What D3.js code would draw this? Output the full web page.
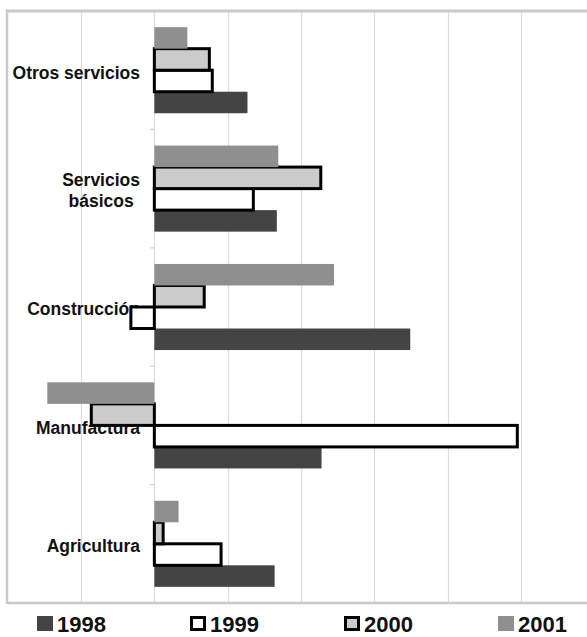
<!DOCTYPE html>
<html>
<head>
<meta charset="utf-8">
<script src="https://cdn.jsdelivr.net/npm/d3@7"></script>
<style>
  body { margin: 0; background: #fff; }
  svg { display: block; font-family: "Liberation Sans", Arial, sans-serif; }
</style>
</head>
<body>
<svg width="587" height="637"></svg>
<script>
// categories, top to bottom
var categories = ["Otros servicios", "Servicios básicos", "Construcción", "Manufactura", "Agricultura"];
var categoryLines = [["Otros servicios"], ["Servicios", "básicos"], ["Construcción"], ["Manufactura"], ["Agricultura"]];
var years = ["1998", "1999", "2000", "2001"];

// values per year, same order as categories
var v1998 = [1.27, 1.67, 3.49, 2.28, 1.64];
var v1999 = [0.79, 1.35, -0.32, 4.95, 0.91];
var v2000 = [0.75, 2.27, 0.68, -0.86, 0.12];
var v2001 = [0.45, 1.69, 2.45, -1.46, 0.33];
var gridTicks = [-1, 0, 1, 2, 3, 4, 5, 6];

var series = { "1998": v1998, "1999": v1999, "2000": v2000, "2001": v2001 };
var fills = { "1998": "#444444", "1999": "#ffffff", "2000": "#cbcbcb", "2001": "#8f8f8f" };
var strokes = { "1998": "none", "1999": "#000", "2000": "#000", "2001": "none" };

var svg = d3.select("svg"),
    plotTop = 11, plotBottom = 603;

var x = d3.scaleLinear()
    .domain([-2, 6])
    .range([7.7, 594.3]);

var y = d3.scaleBand()
    .domain(categories)
    .range([plotTop, plotBottom])
    .paddingInner(0.273)
    .paddingOuter(0.1365);

var yInner = d3.scaleBand()
    .domain(["2001", "2000", "1999", "1998"])
    .range([0, y.bandwidth()]);

// gridlines
svg.append("g")
    .selectAll("line")
    .data(gridTicks)
    .enter().append("line")
    .attr("x1", function(d) { return Math.round(x(d)) + 0.5; })
    .attr("x2", function(d) { return Math.round(x(d)) + 0.5; })
    .attr("y1", plotTop)
    .attr("y2", plotBottom)
    .style("stroke", "#dcdcdc")
    .style("stroke-width", 1.2);

// plot border
svg.append("line")
    .attr("x1", 7).attr("x2", 587).attr("y1", plotTop).attr("y2", plotTop)
    .style("stroke", "#cacaca").style("stroke-width", 3);
svg.append("line")
    .attr("x1", 7).attr("x2", 587).attr("y1", plotBottom).attr("y2", plotBottom)
    .style("stroke", "#cacaca").style("stroke-width", 2.5);
svg.append("line")
    .attr("x1", 7).attr("x2", 7).attr("y1", plotTop - 1.5).attr("y2", plotBottom + 1)
    .style("stroke", "#cacaca").style("stroke-width", 2.5);

// category tick marks on the zero axis
var boundaries = categories.slice(1).map(function(c) { return y(c) - y.step() * y.paddingInner() / 2; });
svg.append("g")
    .selectAll("line")
    .data(boundaries)
    .enter().append("line")
    .attr("x1", x(0) - 4)
    .attr("x2", x(0))
    .attr("y1", function(d) { return d; })
    .attr("y2", function(d) { return d; })
    .style("stroke", "#d0d0d0")
    .style("stroke-width", 1.2);

// category labels
var labels = svg.append("g")
    .selectAll("text")
    .data(categories)
    .enter().append("text")
    .style("font-size", "17.5px")
    .style("font-weight", "bold")
    .style("fill", "#111")
    .attr("text-anchor", "middle");

labels.each(function(c, i) {
    var t = d3.select(this),
        lines = categoryLines[i],
        center = y(c) + y.bandwidth() / 2;
    lines.forEach(function(l, j) {
        t.append("tspan")
            .attr("y", center + 8.3 + (j - (lines.length - 1) / 2) * 21)
            .text(l);
    });
    var maxW = 0;
    t.selectAll("tspan").each(function() {
        maxW = Math.max(maxW, this.getComputedTextLength());
    });
    t.selectAll("tspan").attr("x", 140 - maxW / 2);
});

// bars
years.forEach(function(yr) {
    svg.append("g")
        .selectAll("rect")
        .data(series[yr])
        .enter().append("rect")
        .attr("x", function(d) { return x(Math.min(0, d)); })
        .attr("width", function(d) { return Math.abs(x(d) - x(0)); })
        .attr("y", function(d, i) { return y(categories[i]) + yInner(yr); })
        .attr("height", yInner.bandwidth())
        .style("fill", fills[yr])
        .style("stroke", strokes[yr])
        .style("stroke-width", strokes[yr] === "none" ? 0 : 3);
});

// legend
var legendX = [37, 190, 344, 498];
var legend = svg.append("g")
    .selectAll("g")
    .data(years)
    .enter().append("g")
    .attr("transform", function(d, i) { return "translate(" + legendX[i] + ",0)"; });

legend.append("rect")
    .attr("x", function(d) { return strokes[d] === "none" ? 0 : 1.5; })
    .attr("y", function(d) { return strokes[d] === "none" ? 616 : 617.5; })
    .attr("width", function(d) { return strokes[d] === "none" ? 16 : 13; })
    .attr("height", function(d) { return strokes[d] === "none" ? 15 : 12; })
    .style("fill", function(d) { return fills[d]; })
    .style("stroke", function(d) { return strokes[d]; })
    .style("stroke-width", 3);

legend.append("text")
    .attr("x", 20)
    .attr("y", 632)
    .style("font-size", "22px")
    .style("font-weight", "bold")
    .style("fill", "#111")
    .text(function(d) { return d; });
</script>
</body>
</html>
